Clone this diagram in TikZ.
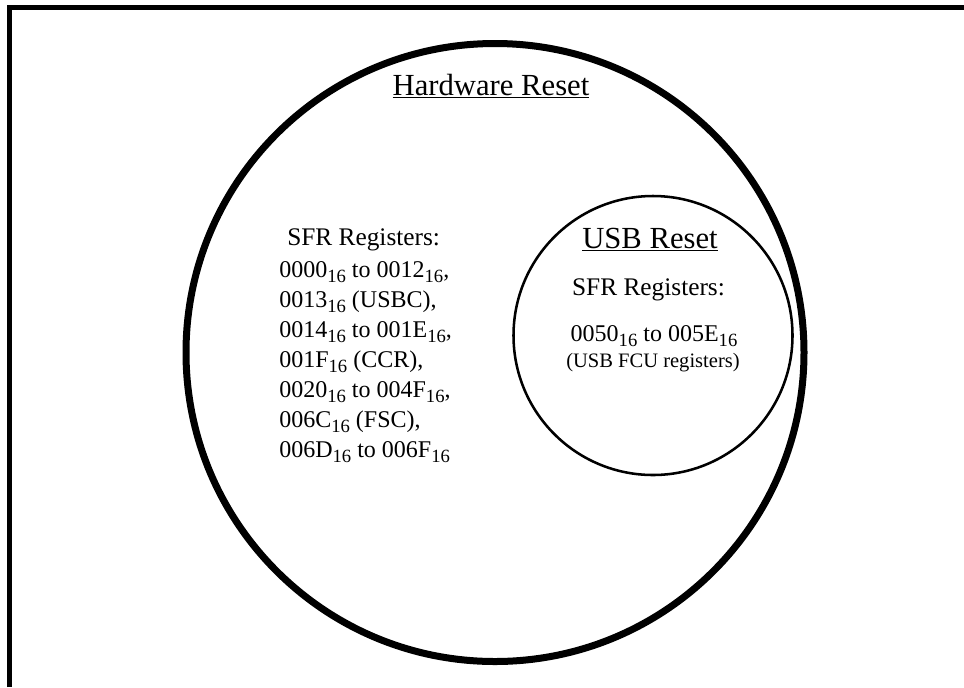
\documentclass[tikz,border=0pt]{standalone}
\usepackage{fontspec}
\setmainfont{Liberation Serif}
\newcommand{\hexsub}[1]{#1\raisebox{-3.8pt}{\fontsize{14}{15}\selectfont 16}}

\begin{document}
\begin{tikzpicture}[x=0.75pt,y=-0.75pt,
    bigtxt/.style={font=\fontsize{23}{27}\selectfont, inner sep=0pt},
    headtxt/.style={font=\fontsize{19}{22.5}\selectfont, inner sep=0pt},
    regtxt/.style={font=\fontsize{18}{22.5}\selectfont, inner sep=0pt},
    smalltxt/.style={font=\fontsize{15.4}{18}\selectfont, inner sep=0pt}]
    \useasboundingbox (0,0) rectangle (964,687);
    \draw[line width=3.75pt] (9,687) -- (9,7.5) -- (964,7.5);
    \draw[line width=5.25pt] (495,352.5) circle[radius=309];
    \draw[line width=1.9pt] (653,335.5) circle[radius=139.5];
    \node[bigtxt, anchor=base] (hwtitle) at (491,95) {\underline{Hardware Reset}};
    \node[headtxt, anchor=base west] (hwhead) at (287,245) {SFR Registers:};
    \node[regtxt, anchor=base west] (hwregs) at (279,277) {\begin{tabular}[t]{@{}l@{}}
      \hexsub{0000} to \hexsub{0012},\\
      \hexsub{0013} (USBC),\\
      \hexsub{0014} to \hexsub{001E},\\
      \hexsub{001F} (CCR),\\
      \hexsub{0020} to \hexsub{004F},\\
      \hexsub{006C} (FSC),\\
      \hexsub{006D} to \hexsub{006F}
    \end{tabular}};
    \node[bigtxt, anchor=base] (usbtitle) at (650,248) {\underline{USB Reset}};
    \node[headtxt, anchor=base] (usbhead) at (648.5,295) {SFR Registers:};
    \node[regtxt, anchor=base] (usbregs) at (654,341) {\hexsub{0050} to \hexsub{005E}};
    \node[smalltxt, anchor=base] (usbnote) at (653,367) {(USB FCU registers)};
\end{tikzpicture}
\end{document}
